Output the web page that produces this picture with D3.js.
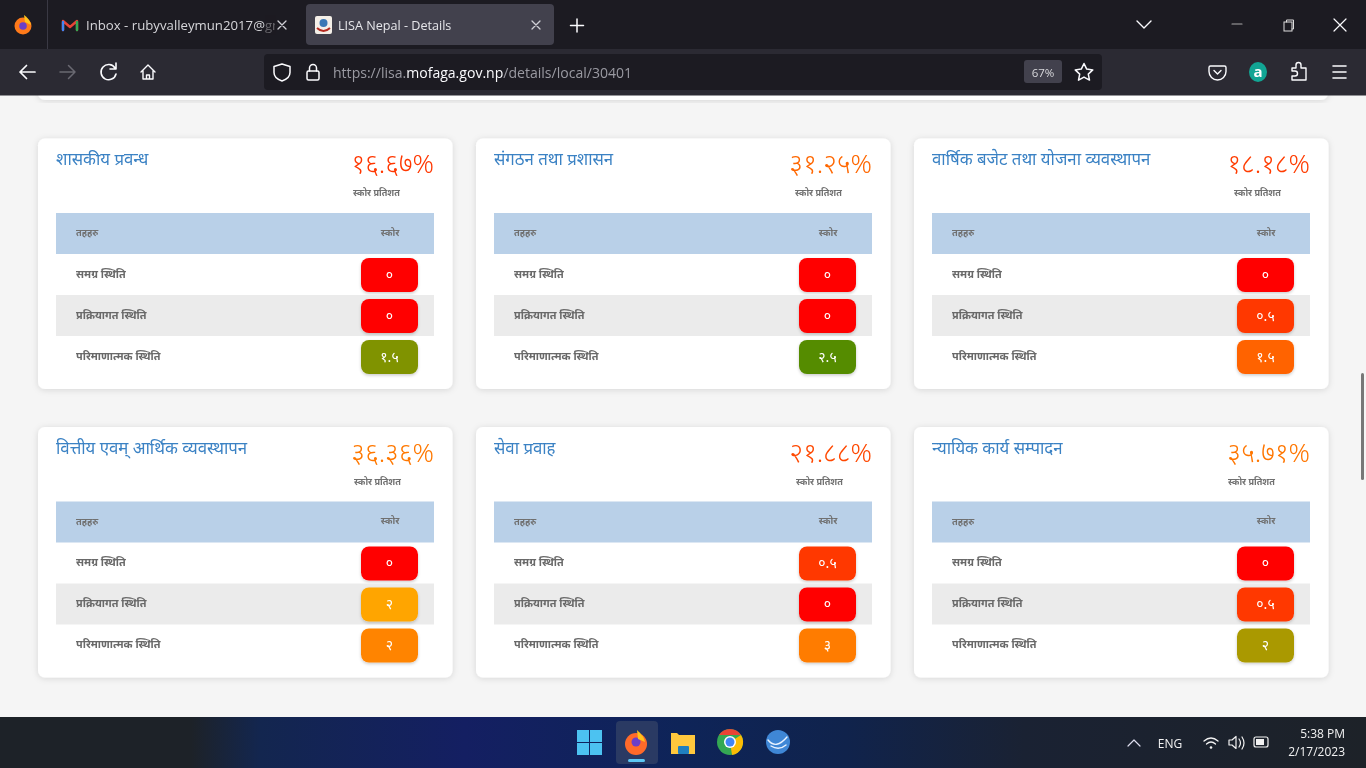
<!DOCTYPE html>
<html><head><meta charset="utf-8">
<style>
html,body{margin:0;padding:0;background:#f5f5f5;overflow:hidden}
svg{display:block;filter:blur(.3px)}
text{font-family:"Noto Sans","Noto Sans Devanagari","Open Sans",sans-serif}
.ui{font-family:"Open Sans","Noto Sans",sans-serif}
</style>
<script src="https://cdn.jsdelivr.net/npm/d3@7/dist/d3.min.js"></script>
</head><body><svg id="c" width="1366" height="768" viewBox="0 0 1366 768"></svg>
<script>
// ---- data ----
const titles=["शासकीय प्रवन्ध","संगठन तथा प्रशासन","वार्षिक बजेट तथा योजना व्यवस्थापन","वित्तीय एवम् आर्थिक व्यवस्थापन","सेवा प्रवाह","न्यायिक कार्य सम्पादन"];
const percents=[16.67,31.25,18.18,36.36,21.88,35.71];
const percentLabels=["१६.६७%","३१.२५%","१८.१८%","३६.३६%","२१.८८%","३५.७१%"];
const rowNames=["समग्र स्थिति","प्रक्रियागत स्थिति","परिमाणात्मक स्थिति"];
const overallScores=[0,0,0,0,0.5,0];
const processScores=[0,0,0.5,2,0,0.5];
const quantScores=[1.5,2.5,1.5,2,3,2];
const overallMax=[3,3,3,3,3,3];
const processMax=[3,3,3,4,3,3];
const quantMax=[2,3,5,5,8,3];
const headerLeft="तहहरु", headerRight="स्कोर", scoreCaption="स्कोर प्रतिशत";
const devanagariDigits="०१२३४५६७८९";

// ---- helpers ----
const toNepali=v=>String(v).replace(/\d/g,d=>devanagariDigits[+d]);
const colour=d3.scaleLinear().domain([0,.5,1]).range(["#ff0000","#ffa500","#008000"]);
const svg=d3.select("#c");
const defs=svg.append("defs");
const f=defs.append("filter").attr("id","sh").attr("x","-10%").attr("y","-10%").attr("width","120%").attr("height","125%");
f.append("feDropShadow").attr("dx",0).attr("dy",1).attr("stdDeviation",3).attr("flood-color","#000").attr("flood-opacity",.13);
const f2=defs.append("filter").attr("id","psh").attr("x","-20%").attr("y","-20%").attr("width","140%").attr("height","150%");
f2.append("feDropShadow").attr("dx",0).attr("dy",1.5).attr("stdDeviation",1.5).attr("flood-color","#000").attr("flood-opacity",.2);

// ---- page background ----
svg.append("rect").attr("width",1366).attr("height",768).attr("fill","#f5f5f5");
svg.append("rect").attr("x",38).attr("y",80).attr("width",1290).attr("height",20).attr("rx",7).attr("fill","#fff").attr("filter","url(#sh)");

// ---- scales ----
const cardX=d3.scalePoint().domain([0,1,2]).range([38,914]);
const cardY=d3.scalePoint().domain([0,1]).range([138.5,427]);
const rowY=d3.scaleBand().domain(["head",0,1,2]).range([74.5,238.5]);

const cards=titles.map((t,i)=>({t,i,col:i%3,row:Math.floor(i/3),pct:percents[i],lab:percentLabels[i],
  scores:[overallScores[i],processScores[i],quantScores[i]],
  maxes:[overallMax[i],processMax[i],quantMax[i]]}));

const g=svg.selectAll("g.card").data(cards).join("g").attr("class","card")
  .attr("transform",d=>`translate(${cardX(d.col)},${cardY(d.row)})`);
g.append("rect").attr("width",414.5).attr("height",250.5).attr("rx",7).attr("fill","#fff").attr("filter","url(#sh)");
g.append("text").attr("x",18).attr("y",26.5).attr("font-size",16.8).attr("fill","#3b82c4").text(d=>d.t);
g.append("text").attr("class","pct").attr("x",396).attr("y",34.5).attr("text-anchor","end").attr("font-size",26.4).attr("font-weight",300)
  .attr("fill",d=>colour(d.pct/100)).text(d=>d.lab);
g.append("text").attr("x",d=>396-[81,77,76,80,76,82][d.i]).attr("y",57.5).attr("font-size",9.1).attr("font-weight",700).attr("fill","#707070").text(scoreCaption);
g.append("rect").attr("x",18).attr("y",rowY("head")).attr("width",378).attr("height",rowY.bandwidth()).attr("fill","#b9d0e8");
g.append("text").attr("x",38).attr("y",rowY("head")+23).attr("font-size",9.3).attr("font-weight",700).attr("fill","#707070").text(headerLeft);
g.append("text").attr("x",352).attr("y",rowY("head")+22.5).attr("text-anchor","middle").attr("font-size",9.3).attr("font-weight",700).attr("fill","#707070").text(headerRight);

const rows=g.selectAll("g.r").data(d=>d.scores.map((s,k)=>({s,k,m:d.maxes[k]}))).join("g").attr("class","r")
  .attr("transform",d=>`translate(0,${rowY(d.k)})`);
rows.filter(d=>d.k===1).append("rect").attr("x",18).attr("width",378).attr("height",rowY.bandwidth()).attr("fill","#ebebeb");
rows.append("text").attr("x",38).attr("y",23.5).attr("font-size",10.9).attr("font-weight",700).attr("fill","#696969").text(d=>rowNames[d.k]);
rows.append("rect").attr("x",323).attr("y",4).attr("width",57).attr("height",34).attr("rx",8)
  .attr("fill",d=>colour(d.s/d.m)).attr("filter","url(#psh)");
rows.append("text").attr("x",351.5).attr("y",25.5).attr("text-anchor","middle").attr("font-size",14).attr("font-weight",400).attr("fill","#fff").text(d=>toNepali(d.s));

// ---- browser chrome ----
const ui=svg.append("g");
ui.append("rect").attr("width",1366).attr("height",50).attr("fill","#1c1b22");
ui.append("rect").attr("y",49).attr("width",1366).attr("height",46.5).attr("fill","#2b2a33");
ui.append("rect").attr("x",47).attr("y",0).attr("width",1).attr("height",49).attr("fill","#3a3944");
ui.append("rect").attr("x",306).attr("y",4).attr("width",248).attr("height",41).attr("rx",4).attr("fill","#42414d");
ui.append("rect").attr("x",264).attr("y",54).attr("width",838).attr("height",36).attr("rx",4).attr("fill","#1c1b22");
ui.append("rect").attr("x",1024).attr("y",60).attr("width",38).attr("height",23).attr("rx",3).attr("fill","#42414d");
const txt=(x,y,s,c,fs,a)=>ui.append("text").attr("class","ui").attr("x",x).attr("y",y).attr("fill",c).attr("font-size",fs).attr("text-anchor",a||"start").text(s);
const line=(d,c,w,fill)=>ui.append("path").attr("d",d).attr("stroke",c||"#fbfbfe").attr("stroke-width",w||1.6).attr("fill",fill||"none").attr("stroke-linecap","round").attr("stroke-linejoin","round");
// tabs
const clipD=defs.append("clipPath").attr("id","tabclip"); clipD.append("rect").attr("x",80).attr("y",10).attr("width",195).attr("height",30);
ui.append("text").attr("class","ui").attr("x",86).attr("y",30).attr("fill","#d6d6da").attr("font-size",13).attr("textLength",209).attr("lengthAdjust","spacingAndGlyphs").attr("clip-path","url(#tabclip)").text("Inbox - rubyvalleymun2017@gmail.com".slice(0,30));
ui.append("rect").attr("x",265).attr("y",15).attr("width",11).attr("height",20).attr("fill","#1c1b22").attr("opacity",.6);
txt(338,30,"LISA Nepal - Details","#e6e6ea",12.6);
line("M278 21l8 8M286 21l-8 8","#d0d0d6",1.3);
line("M532 21l8 8M540 21l-8 8","#d0d0d6",1.3);
line("M577 19v13M570.5 25.5h13","#fbfbfe",1.5);
// firefox icon
ui.append("circle").attr("cx",23).attr("cy",26).attr("r",8.5).attr("fill","#ff7a1a");
ui.append("circle").attr("cx",23).attr("cy",26).attr("r",3.8).attr("fill","#6a3fc8");
ui.append("path").attr("d","M24 15c3 2 6 5 7 10l-6-3z").attr("fill","#ffc21a");
// gmail
line("M63 30V21l7 6 7-6v9","#ea4335",2.4);
line("M63 30V22","#4285f4",2.4); line("M77 30V22","#34a853",2.4);
// LISA icon
ui.append("rect").attr("x",315).attr("y",16).attr("width",17).attr("height",18).attr("rx",2).attr("fill","#f4efe8");
ui.append("circle").attr("cx",323.5).attr("cy",23).attr("r",4).attr("fill","#3b78b5");
ui.append("path").attr("d","M317 28q6.5 6 13 0").attr("stroke","#b52a20").attr("stroke-width",2).attr("fill","none");
// window controls
line("M1137 21l7 7 7-7","#fbfbfe",1.4);
line("M1232 24h10","#aaa",1.2);
ui.append("rect").attr("x",1284).attr("y",22).attr("width",8).attr("height",9).attr("fill","none").attr("stroke","#ddd");
line("M1286.5 22v-2h7v9h-1.5","#ddd",1);
line("M1334 19l12 12M1346 19l-12 12","#fbfbfe",1.2);
// nav
line("M35 72H20M26.5 65.5L20 72l6.5 6.5","#fbfbfe",1.7);
line("M60 72h15M68.5 65.5L75 72l-6.5 6.5","#6a6972",1.5);
line("M115 68a7.6 7.6 0 1 0 1 6M116 63v6h-6","#fbfbfe",1.6);
line("M141 72l7-7 7 7M143 71v8h10v-8M146.5 79v-4h3v4","#fbfbfe",1.4);
line("M282 64l8 2.5v6c0 4-3.5 7-8 8.500-4.500-1.500-8-4.500-8-8.500v-6z","#fbfbfe",1.5);
ui.append("rect").attr("x",307).attr("y",71).attr("width",12).attr("height",9).attr("rx",1.500).attr("fill","none").attr("stroke","#fbfbfe").attr("stroke-width",1.5);
line("M309.500 71v-3a3.500 3.500 0 0 1 7 0v3","#fbfbfe",1.5);
const url=ui.append("text").attr("class","ui").attr("x",333).attr("y",78).attr("font-size",14.05).attr("fill","#9a9aa2");
url.append("tspan").text("https://lisa.");
url.append("tspan").attr("fill","#fbfbfe").text("mofaga.gov.np");
url.append("tspan").text("/details/local/30401");
txt(1043,77,"67%","#d8d8dc",11.500,"middle");
line("M1084 63.500l2.700 5.600 6.100.8-4.500 4.200 1.200 6-5.500-3-5.500 3 1.200-6-4.500-4.200 6.100-.8z","#fbfbfe",1.5);
line("M1210.500 66h14q1.500 0 1.500 1.500v4a8.500 8.500 0 0 1-17 0v-4q0-1.500 1.500-1.500zM1214 70.500l3.500 3.500 3.500-3.500","#fbfbfe",1.4);
ui.append("ellipse").attr("cx",1258).attr("cy",72).attr("rx",9).attr("ry",10).attr("fill","#12a594");
txt(1258,77,"a","#fff",15,"middle").attr("font-weight",700);
line("M1292 68h4v-3a2.500 2.500 0 0 1 5 0v3h5v12h-14v-4h3a2.500 2.500 0 0 0 0-5h-3z","#fbfbfe",1.4);
line("M1333 66h13M1333 72h13M1333 78h13","#fbfbfe",1.6);

// ---- scrollbar ----
svg.append("rect").attr("x",1361).attr("y",373).attr("width",3).attr("height",107).attr("rx",1.500).attr("fill","#777");

// ---- taskbar ----
const tg=defs.append("linearGradient").attr("id","tb");
[[0,"#1d2228"],[.14,"#1d2228"],[.19,"#13264f"],[.34,"#141f62"],[.5,"#0e2458"],[.62,"#10234c"],[.75,"#1a2233"],[1,"#1d2228"]].forEach(([o,c])=>tg.append("stop").attr("offset",o).attr("stop-color",c));
ui.append("rect").attr("y",717).attr("width",1366).attr("height",51).attr("fill","url(#tb)");
ui.append("rect").attr("x",616).attr("y",721).attr("width",42).attr("height",43).attr("rx",4).attr("fill","#2a3a63");
ui.append("rect").attr("x",628).attr("y",759).attr("width",17).attr("height",3).attr("rx",1.500).attr("fill","#5cc8f5");
[[577,730],[590,730],[577,743],[590,743]].forEach(([x,y])=>ui.append("rect").attr("x",x).attr("y",y).attr("width",12).attr("height",12).attr("fill","#4cc2f1"));
ui.append("circle").attr("cx",636).attr("cy",744).attr("r",11).attr("fill","#ff6a2a");
ui.append("circle").attr("cx",636).attr("cy",742).attr("r",4.500).attr("fill","#6a3fc8");
ui.append("path").attr("d","M637 730c3 3 7 6 8 12l-7-3z").attr("fill","#ffc21a");
ui.append("path").attr("d","M671 733h6l2 2h16v19h-24z").attr("fill","#ffc83d");
ui.append("rect").attr("x",678).attr("y",746).attr("width",11).attr("height",8).attr("rx",1).attr("fill","#1f7fbf");
ui.append("circle").attr("cx",730).attr("cy",742).attr("r",13).attr("fill","#34a853");
ui.append("path").attr("d","M719 735a13 13 0 0 1 22 0h-11z").attr("fill","#ea4335");
ui.append("path").attr("d","M741 735a13 13 0 0 1-9 20l-2-13z").attr("fill","#fbbc05");
ui.append("circle").attr("cx",730).attr("cy",742).attr("r",6).attr("fill","#fff");
ui.append("circle").attr("cx",730).attr("cy",742).attr("r",4.500).attr("fill","#4285f4");
ui.append("ellipse").attr("cx",778).attr("cy",742).attr("rx",12).attr("ry",12).attr("fill","#3f87d6");
line("M768 740q8 10 19-3M771 746q8 5 15-1","#e8f2ff",1.4);
line("M1128 746l6-6 6 6","#dde",1.2);
txt(1170,748,"ENG","#f2f2f2",12,"middle");
line("M1204 741q7-6 14 0M1206.500 744q4.500-4 9 0","#f2f2f2",1.3);
ui.append("circle").attr("cx",1211).attr("cy",747.500).attr("r",1.300).attr("fill","#f2f2f2");
line("M1229 740h3l4-3.500v12l-4-3.500h-3zM1239 739q3 4 0 8M1242 737q4 6 0 12","#f2f2f2",1.2);
ui.append("rect").attr("x",1254).attr("y",737).attr("width",14).attr("height",10).attr("rx",2).attr("fill","none").attr("stroke","#f2f2f2").attr("stroke-width",1.200);
ui.append("rect").attr("x",1256).attr("y",739).attr("width",8).attr("height",6).attr("fill","#f2f2f2");
txt(1345,738,"5:38 PM","#f2f2f2",12,"end");
txt(1345,756,"2/17/2023","#f2f2f2",12,"end");
</script></body></html>
